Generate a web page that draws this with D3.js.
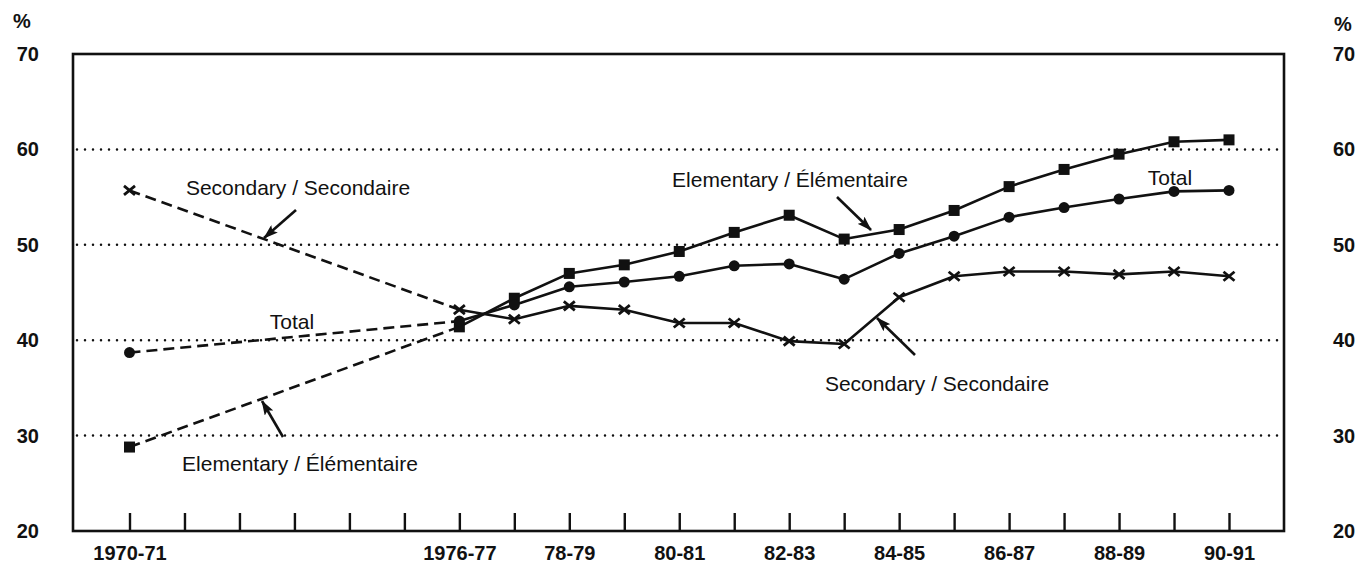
<!DOCTYPE html>
<html>
<head>
<meta charset="utf-8">
<script src="https://cdn.jsdelivr.net/npm/d3@7"></script>
<style>
  html, body { margin: 0; padding: 0; background: #fff; }
  svg { display: block; font-family: "Liberation Sans", Arial, Helvetica, sans-serif; }
  .tick-label { font-size: 20px; font-weight: bold; fill: #111; }
  .note { font-size: 21px; fill: #111; }
</style>
</head>
<body>
<svg id="chart" width="1358" height="570"></svg>
<script>
// data (percent), school year start
const years = [1970, 1976, 1977, 1978, 1979, 1980, 1981, 1982, 1983, 1984, 1985, 1986, 1987, 1988, 1989, 1990];
const elementary = [28.8, 41.4, 44.4, 47.0, 47.9, 49.3, 51.3, 53.1, 50.6, 51.6, 53.6, 56.1, 57.9, 59.5, 60.8, 61.0];
const total      = [38.7, 42.0, 43.7, 45.6, 46.1, 46.7, 47.8, 48.0, 46.4, 49.1, 50.9, 52.9, 53.9, 54.8, 55.6, 55.7];
const secondary  = [55.7, 43.2, 42.2, 43.6, 43.2, 41.8, 41.8, 39.9, 39.6, 44.5, 46.7, 47.2, 47.2, 46.9, 47.2, 46.7];

const tickYears  = d3.range(1970, 1991);
const labelYears = [1970, 1976, 1978, 1980, 1982, 1984, 1986, 1988, 1990];
const labelText  = ["1970-71", "1976-77", "78-79", "80-81", "82-83", "84-85", "86-87", "88-89", "90-91"];
const yTicks     = [20, 30, 40, 50, 60, 70];
const gridValues = [30, 40, 50, 60];

const box = { left: 73, right: 1284, top: 54, bottom: 531 };

const svg = d3.select('#chart');

const x = d3.scaleLinear().domain([1970, 1990]).range([129.5, 1229]);
const y = d3.scaleLinear().domain([20, 70]).range([box.bottom, box.top]);

// arrow head
svg.append('defs').append('marker')
    .attr('id', 'arrow')
    .attr('viewBox', '0 0 15 10')
    .attr('refX', 14).attr('refY', 5)
    .attr('markerWidth', 15).attr('markerHeight', 10)
    .attr('markerUnits', 'userSpaceOnUse')
    .attr('orient', 'auto')
    .append('path')
    .attr('d', 'M0,0 L15,5 L0,10 L3,5 Z')
    .attr('fill', '#111');

// dotted gridlines
svg.append('g').selectAll('line')
    .data(gridValues)
    .enter().append('line')
    .attr('x1', box.left + 4).attr('x2', box.right)
    .attr('y1', d => y(d)).attr('y2', d => y(d))
    .attr('stroke', '#111')
    .attr('stroke-width', 2.5)
    .attr('stroke-linecap', 'round')
    .attr('stroke-dasharray', '0,8');

// frame
svg.append('rect')
    .attr('x', box.left).attr('y', box.top)
    .attr('width', box.right - box.left).attr('height', box.bottom - box.top)
    .attr('fill', 'none')
    .attr('stroke', '#111')
    .attr('stroke-width', 2.6);

// x axis, ticks pointing inward
const xAxis = d3.axisBottom(x)
    .tickValues(tickYears)
    .tickSize(-18)
    .tickPadding(15)
    .tickFormat(d => {
        const i = labelYears.indexOf(d);
        return i >= 0 ? labelText[i] : '';
    });

const gx = svg.append('g')
    .attr('transform', `translate(0,${box.bottom})`)
    .call(xAxis);
gx.select('.domain').remove();
gx.selectAll('.tick line').attr('stroke', '#111').attr('stroke-width', 2.4);
gx.selectAll('.tick text').attr('class', 'tick-label').attr('font-family', null).attr('font-size', null);

// y axes on both sides, labels only
const gyl = svg.append('g')
    .attr('transform', `translate(${box.left},0)`)
    .call(d3.axisLeft(y).tickValues(yTicks).tickSize(0).tickPadding(34));
const gyr = svg.append('g')
    .attr('transform', `translate(${box.right},0)`)
    .call(d3.axisRight(y).tickValues(yTicks).tickSize(0).tickPadding(49));
[gyl, gyr].forEach(g => {
    g.select('.domain').remove();
    g.selectAll('.tick text').attr('class', 'tick-label').attr('font-family', null).attr('font-size', null);
});

svg.append('text').attr('class', 'tick-label').attr('x', 22).attr('y', 28).attr('text-anchor', 'middle').text('%');
svg.append('text').attr('class', 'tick-label').attr('x', 1343).attr('y', 31).attr('text-anchor', 'middle').text('%');

// series: dashed 1970-71 -> 1976-77, solid afterwards
const series = [
    { name: 'elementary', values: elementary, marker: 'square' },
    { name: 'total', values: total, marker: 'circle' },
    { name: 'secondary', values: secondary, marker: 'cross' }
];

const line = d3.line().x(d => x(d[0])).y(d => y(d[1]));

series.forEach(s => {
    const pts = years.map((yr, i) => [yr, s.values[i]]);
    const g = svg.append('g').attr('class', s.name);

    g.append('path')
        .attr('d', line(pts.slice(0, 2)))
        .attr('fill', 'none').attr('stroke', '#111')
        .attr('stroke-width', 2.6)
        .attr('stroke-dasharray', '11,6');

    g.append('path')
        .attr('d', line(pts.slice(1)))
        .attr('fill', 'none').attr('stroke', '#111')
        .attr('stroke-width', 2.6)
        .attr('stroke-linejoin', 'round');

    const m = g.selectAll('g.pt').data(pts).enter().append('g')
        .attr('transform', d => `translate(${x(d[0])},${y(d[1])})`);

    if (s.marker === 'square') {
        m.append('rect').attr('x', -5.5).attr('y', -5.5).attr('width', 11).attr('height', 11).attr('fill', '#111');
    } else if (s.marker === 'circle') {
        m.append('circle').attr('r', 5.5).attr('fill', '#111');
    } else {
        m.append('path').attr('d', 'M-5.5,-4.5 L5.5,4.5 M-5.5,4.5 L5.5,-4.5')
            .attr('stroke', '#111').attr('stroke-width', 2.8).attr('fill', 'none');
    }
});

// annotations
const notes = [
    { text: 'Secondary / Secondaire', x: 298, y: 187 },
    { text: 'Total', x: 292, y: 321 },
    { text: 'Elementary / Élémentaire', x: 300, y: 463 },
    { text: 'Elementary / Élémentaire', x: 790, y: 179 },
    { text: 'Total', x: 1170, y: 177 },
    { text: 'Secondary / Secondaire', x: 937, y: 383 }
];
svg.append('g').selectAll('text')
    .data(notes)
    .enter().append('text')
    .attr('class', 'note')
    .attr('x', d => d.x).attr('y', d => d.y)
    .attr('dy', '0.36em')
    .attr('text-anchor', 'middle')
    .text(d => d.text);

const arrows = [
    [296, 210, 264, 238],
    [283, 437, 262, 401],
    [837, 197, 871, 230],
    [915, 355, 877, 318]
];
svg.append('g').selectAll('line')
    .data(arrows)
    .enter().append('line')
    .attr('x1', d => d[0]).attr('y1', d => d[1])
    .attr('x2', d => d[2]).attr('y2', d => d[3])
    .attr('stroke', '#111').attr('stroke-width', 2.6)
    .attr('marker-end', 'url(#arrow)');
</script>
</body>
</html>
